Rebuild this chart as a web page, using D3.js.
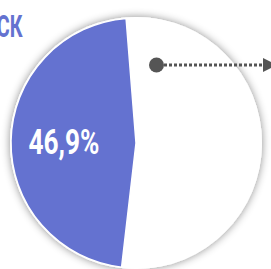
<!DOCTYPE html>
<html><head><meta charset="utf-8">
<script src="https://cdn.jsdelivr.net/npm/d3@7"></script>
<style>html,body{margin:0;padding:0;background:#fff;overflow:hidden}</style>
</head><body>
<svg id="c" width="271" height="269"></svg>
<script>
const categories = ["Прочие", "СК"];
const values = [53.1, 46.9];
const colors = ["#ffffff", "#6472d0"];
const titleText = "СК";

const svg = d3.select("#c");
const cx = 136, cy = 143, r = 125;

const defs = svg.append("defs");
const f = defs.append("filter").attr("id", "sh").attr("x", "-20%").attr("y", "-20%").attr("width", "140%").attr("height", "140%");
f.append("feDropShadow").attr("dx", 0).attr("dy", 0).attr("stdDeviation", 4).attr("flood-color", "#000").attr("flood-opacity", 0.45);

const pie = d3.pie().sort(null).value(d => d)
  .startAngle(-4.55 * Math.PI / 180).endAngle((360 - 4.55) * Math.PI / 180);
const arcs = pie(values);
const arc = d3.arc().innerRadius(0).outerRadius(r);

const g = svg.append("g").attr("transform", `translate(${cx},${cy})`);
g.append("circle").attr("r", r + 1).attr("fill", "#fff").attr("filter", "url(#sh)");
g.selectAll("path.s").data(arcs).join("path").attr("class", "s")
  .attr("d", arc).attr("fill", (d, i) => colors[i])
  .attr("stroke", "#fff").attr("stroke-width", 1.5);

// label for blue slice
const lab = d3.arc().innerRadius(72).outerRadius(72);
const bd = arcs[1];
const [lx, ly] = lab.centroid(bd);
g.append("text")
  .attr("transform", `translate(${lx},${ly + 12}) scale(0.75,1)`)
  .attr("text-anchor", "middle")
  .attr("font-family", "Roboto, sans-serif").attr("font-weight", "bold")
  .attr("font-size", 35).attr("fill", "#fff")
  .text(values[1].toFixed(1).replace(".", ",") + "%");

// title (cut off at left)
svg.append("text")
  .attr("transform", "translate(22.5,37) scale(0.62,1)")
  .attr("text-anchor", "end")
  .attr("font-family", "Roboto, sans-serif").attr("font-weight", "bold")
  .attr("font-size", 32).attr("fill", "#6472d0")
  .text(titleText);

// dotted leader with dot and arrow
const ly0 = 65;
svg.append("line").attr("x1", 164).attr("x2", 265).attr("y1", ly0).attr("y2", ly0)
  .attr("stroke", "#555").attr("stroke-width", 3).attr("stroke-dasharray", "3,2");
svg.append("circle").attr("cx", 156.5).attr("cy", ly0).attr("r", 7.5).attr("fill", "#555");
svg.append("path").attr("d", `M263,${ly0 - 7}L277,${ly0}L263,${ly0 + 7}Z`).attr("fill", "#555");
</script>
</body></html>
